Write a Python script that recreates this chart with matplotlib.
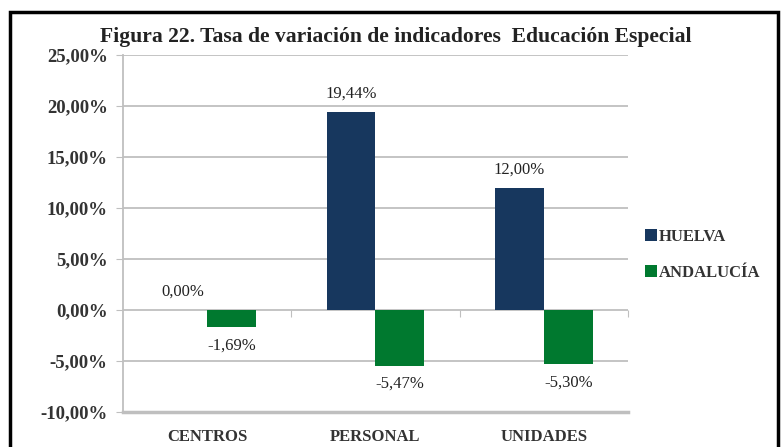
import matplotlib.pyplot as plt
import numpy as np
from matplotlib.patches import Rectangle

# Data
categories = ["CENTROS", "PERSONAL", "UNIDADES"]
huelva = [0.00, 19.44, 12.00]
andalucia = [-1.69, -5.47, -5.30]
series_names = ["HUELVA", "ANDALUCÍA"]
yticks = [-10, -5, 0, 5, 10, 15, 20, 25]

navy = "#17375E"
green = "#00792F"
grid_grey = "#BFBFBF"
serif = ["Liberation Serif", "DejaVu Serif"]

fig = plt.figure(figsize=(7.83, 4.47), dpi=100)
ax = fig.add_axes([0.157, 0.078, 0.645, 0.799])

x = np.arange(len(categories))
width = 0.29
ax.bar(x - width / 2, huelva, width, color=navy, label=series_names[0], zorder=3)
ax.bar(x + width / 2, andalucia, width, color=green, label=series_names[1], zorder=3)

# Value labels
for xi, v in zip(x, huelva):
    ax.text(xi - width / 2, v + 1.0, f"{v:.2f}%".replace(".", ","), ha="center",
            va="bottom", fontsize=12, family=serif, color="#222222")
for xi, v in zip(x, andalucia):
    ax.text(xi + width / 2, v - 1.0, f"{v:.2f}%".replace(".", ","), ha="center",
            va="top", fontsize=12, family=serif, color="#222222")

ax.set_xlim(-0.5, 2.5)
ax.set_ylim(-10, 25)
ax.set_yticks(yticks)
ax.set_yticklabels([f"{t:.2f}%".replace(".", ",") for t in yticks],
                   fontsize=13.5, family=serif, fontweight="bold", color="#333333")
ax.set_xticks(x)
ax.set_xticklabels(categories, fontsize=12, family=serif, fontweight="bold",
                   color="#333333")
ax.tick_params(axis="x", length=0, pad=12)
ax.tick_params(axis="y", length=5, color=grid_grey, pad=6)

ax.grid(True, axis="y", color=grid_grey, linewidth=1.3, zorder=0)
for side in ["top", "right"]:
    ax.spines[side].set_visible(False)
ax.spines["left"].set_color(grid_grey)
ax.spines["left"].set_linewidth(1.3)
ax.spines["bottom"].set_color(grid_grey)
ax.spines["bottom"].set_linewidth(2.5)

# category boundary ticks on the zero line
zero_axis = ax.secondary_xaxis(10 / 35)
zero_axis.set_xticks([0.5, 1.5, 2.5])
zero_axis.set_xticklabels([])
zero_axis.tick_params(length=5, color=grid_grey, direction="out")
zero_axis.spines["bottom"].set_visible(False)

leg = fig.legend(loc="center left", bbox_to_anchor=(0.805, 0.43), frameon=False,
                 handlelength=0.7, handleheight=0.7, handletextpad=0.1,
                 labelspacing=1.2,
                 prop={"family": serif, "weight": "bold", "size": 12})
for t in leg.get_texts():
    t.set_color("#333333")

fig.text(0.505, 0.918, "Figura 22. Tasa de variación de indicadores  Educación Especial",
         ha="center", va="center", fontsize=15.6, fontweight="bold", family=serif,
         color="#222222")

# outer border
fig.patches.append(Rectangle((0.013, -0.05), 0.98, 1.023, transform=fig.transFigure,
                             fill=False, edgecolor="black", linewidth=2.5))

fig.savefig("out.png", dpi=100)
